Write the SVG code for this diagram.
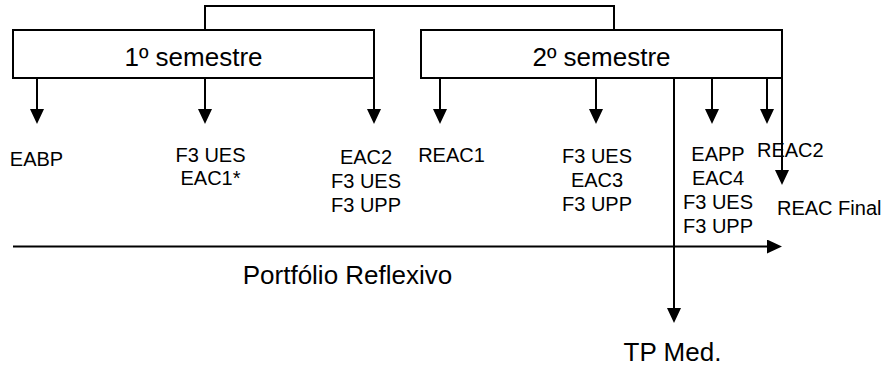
<svg xmlns="http://www.w3.org/2000/svg" width="892" height="372" viewBox="0 0 892 372">
<style>
.box{fill:#fff;stroke:#000;stroke-width:2}
.ln{fill:none;stroke:#000;stroke-width:2}
.big{font-family:"Liberation Sans",Arial,sans-serif;font-size:26px;fill:#000}
.lbl{font-family:"Liberation Sans",Arial,sans-serif;font-size:20px;fill:#000}
</style>
<defs>
<marker id="ah" markerUnits="userSpaceOnUse" markerWidth="16" markerHeight="14" refX="1" refY="7" orient="auto">
<path d="M0,0 L15,7 L0,14 z" fill="#000"/>
</marker>
</defs>
<g id="connectors">
<path class="ln" d="M205,30 V6 H614 V30"/>
<line class="ln" x1="37" y1="78" x2="37" y2="110" marker-end="url(#ah)"/>
<line class="ln" x1="205" y1="78" x2="205" y2="110" marker-end="url(#ah)"/>
<line class="ln" x1="374" y1="78" x2="374" y2="110" marker-end="url(#ah)"/>
<line class="ln" x1="440" y1="78" x2="440" y2="110" marker-end="url(#ah)"/>
<line class="ln" x1="596" y1="78" x2="596" y2="110" marker-end="url(#ah)"/>
<line class="ln" x1="712" y1="78" x2="712" y2="110" marker-end="url(#ah)"/>
<line class="ln" x1="767" y1="78" x2="767" y2="110" marker-end="url(#ah)"/>
<line class="ln" x1="674" y1="78" x2="674" y2="309" marker-end="url(#ah)"/>
<line class="ln" x1="782" y1="78" x2="782" y2="171" marker-end="url(#ah)"/>
<line class="ln" x1="13" y1="246.5" x2="768" y2="246.5" marker-end="url(#ah)"/>
</g>
<g id="sem1">
<rect class="box" x="13" y="30" width="361" height="48"/>
<text class="big" x="193.5" y="66" text-anchor="middle">1º semestre</text>
</g>
<g id="sem2">
<rect class="box" x="421" y="30" width="361" height="48"/>
<text class="big" x="601.5" y="66" text-anchor="middle">2º semestre</text>
</g>
<g id="eabp">
<text class="lbl" x="36.5" y="166" text-anchor="middle">EABP</text>
</g>
<g id="grp2">
<text class="lbl" x="210.5" y="162" text-anchor="middle">F3 UES</text>
<text class="lbl" x="210.5" y="185" text-anchor="middle">EAC1*</text>
</g>
<g id="grp3">
<text class="lbl" x="366" y="164" text-anchor="middle">EAC2</text>
<text class="lbl" x="366" y="188" text-anchor="middle">F3 UES</text>
<text class="lbl" x="366" y="212" text-anchor="middle">F3 UPP</text>
</g>
<g id="reac1">
<text class="lbl" x="451.5" y="162" text-anchor="middle">REAC1</text>
</g>
<g id="grp5">
<text class="lbl" x="597" y="163" text-anchor="middle">F3 UES</text>
<text class="lbl" x="597" y="187" text-anchor="middle">EAC3</text>
<text class="lbl" x="597" y="211" text-anchor="middle">F3 UPP</text>
</g>
<g id="grp6">
<text class="lbl" x="718" y="161" text-anchor="middle">EAPP</text>
<text class="lbl" x="718" y="185" text-anchor="middle">EAC4</text>
<text class="lbl" x="718" y="209" text-anchor="middle">F3 UES</text>
<text class="lbl" x="718" y="233" text-anchor="middle">F3 UPP</text>
</g>
<g id="reac2">
<text class="lbl" x="757" y="157">REAC2</text>
</g>
<g id="reacfinal">
<text class="lbl" x="777" y="215">REAC Final</text>
</g>
<g id="portfolio">
<text class="big" x="347.5" y="284" text-anchor="middle">Portfólio Reflexivo</text>
</g>
<g id="tpmed">
<text class="big" x="672.5" y="361" text-anchor="middle">TP Med.</text>
</g>
</svg>
